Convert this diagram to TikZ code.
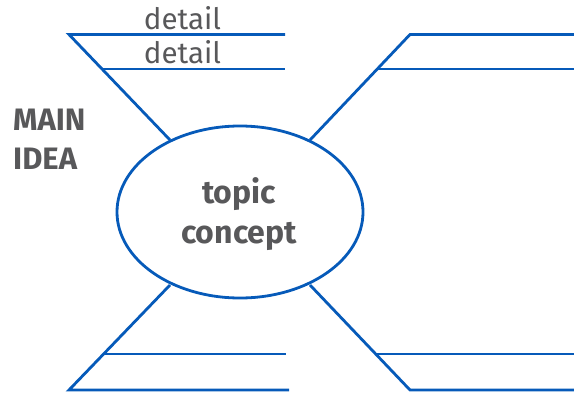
\documentclass[tikz,border=0pt]{standalone}
\usepackage{fontspec}
\setmainfont{Fira Sans}
\usetikzlibrary{shapes.geometric}
\definecolor{lineblue}{RGB}{6,90,185}
\definecolor{textgray}{RGB}{88,88,90}
\begin{document}
\begin{tikzpicture}[x=1pt,y=-1pt,
  branch/.style={draw=lineblue,line width=2.8pt,line cap=butt,line join=miter},
  detailtext/.style={text=textgray,font=\fontsize{29.5}{30}\selectfont,inner sep=0pt,anchor=base},
  headtext/.style={text=textgray,font=\fontsize{31}{39}\selectfont\bfseries,inner sep=0pt,align=left,anchor=north west}]
\useasboundingbox (0,0) rectangle (574,394);

% central topic
\node[draw=lineblue,line width=2.8pt,ellipse,minimum width=246pt,minimum height=172pt,inner sep=0pt]
  (topic) at (240,212) {};
\node[text=textgray,font=\fontsize{32}{40}\selectfont\bfseries,align=center,inner sep=0pt]
  (label) at (239,214) {topic\\concept};

% side heading
\node[headtext] (head) at (13,109) {MAIN\\IDEA};

% branch end points
\coordinate (tl0) at (170,140);   \coordinate (tl1) at (103,69);  \coordinate (tl2) at (69,34.5);
\coordinate (tle1) at (285,69);   \coordinate (tle2) at (285,34.5);
\coordinate (tr0) at (310,140);   \coordinate (tr1) at (377,69);  \coordinate (tr2) at (410,34.5);
\coordinate (tre1) at (574,69);   \coordinate (tre2) at (574,34.5);
\coordinate (bl0) at (170,285);   \coordinate (bl1) at (104,354); \coordinate (bl2) at (69,390);
\coordinate (ble1) at (286,354);  \coordinate (ble2) at (289,390);
\coordinate (br0) at (310,285);   \coordinate (br1) at (377,354); \coordinate (br2) at (410,390);
\coordinate (bre1) at (574,354);  \coordinate (bre2) at (574,390);

% branches
\draw[branch] (tl0) -- (tl2) -- (tle2);
\draw[branch] (tl1) -- (tle1);
\draw[branch] (tr0) -- (tr2) -- (tre2);
\draw[branch] (tr1) -- (tre1);
\draw[branch] (bl0) -- (bl2) -- (ble2);
\draw[branch] (bl1) -- (ble1);
\draw[branch] (br0) -- (br2) -- (bre2);
\draw[branch] (br1) -- (bre1);

% detail labels
\node[detailtext] (d1) at (182.5,29.5) {detail};
\node[detailtext] (d2) at (182.5,63.5) {detail};
\end{tikzpicture}
\end{document}
